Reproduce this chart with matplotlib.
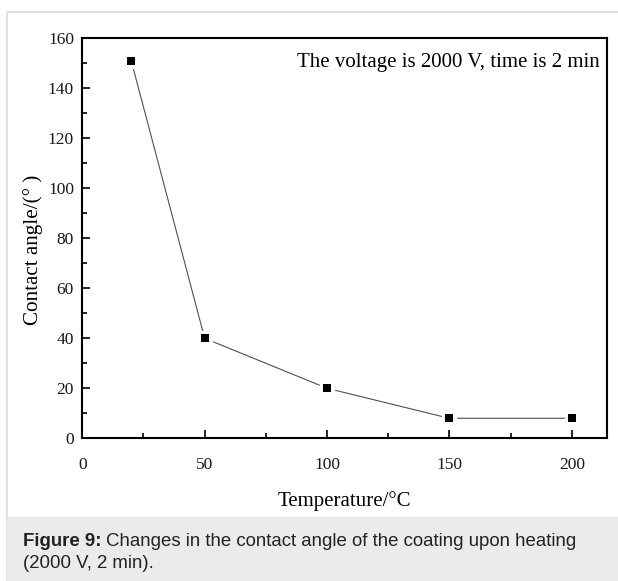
import matplotlib.pyplot as plt
from matplotlib.patches import Rectangle
from matplotlib.ticker import MultipleLocator

# data
temperature = [20, 50, 100, 150, 200]
contact_angle = [151, 40, 20, 8, 8]

x_ticks = [0, 50, 100, 150, 200]
y_ticks = [0, 20, 40, 60, 80, 100, 120, 140, 160]

W, H = 618, 581
fig = plt.figure(figsize=(W / 100, H / 100), dpi=100)

# page frame + caption box (behind the axes)
fig.patches.append(Rectangle((6.5 / W, 0), 1, 1 - 12 / H, transform=fig.transFigure,
                             facecolor='white', edgecolor='#dcdcdc', linewidth=1.2, zorder=-2))
fig.patches.append(Rectangle((6.5 / W, 0), 1, (H - 517) / H, transform=fig.transFigure,
                             facecolor='#ebebeb', edgecolor='none', zorder=-1))

ax = fig.add_axes([82.3 / W, 1 - 438.3 / H, 525 / W, 400 / H])
ax.set_facecolor('none')

serif = 'Liberation Serif'

# line with gaps around the symbols (Origin style)
ax.plot(temperature, contact_angle, color='#505050', linewidth=0.8, zorder=2)
ax.plot(temperature, contact_angle, linestyle='none', marker='s', markersize=10.5,
        markerfacecolor='white', markeredgecolor='white', zorder=3)
ax.plot(temperature, contact_angle, linestyle='none', marker='s', markersize=5.2,
        markerfacecolor='black', markeredgecolor='black', markeredgewidth=0, zorder=4)

ax.set_xlim(0, 214.5)
ax.set_ylim(0, 160)
ax.set_xticks(x_ticks)
ax.set_yticks(y_ticks)
ax.xaxis.set_minor_locator(MultipleLocator(25))
ax.yaxis.set_minor_locator(MultipleLocator(10))
ax.tick_params(which='both', direction='in', top=False, right=False, width=1.2)
ax.tick_params(which='major', length=6, labelsize=12.5, labelfontfamily=serif,
               labelcolor='#1a1a1a')
ax.tick_params(which='minor', length=3.5)
ax.tick_params(axis='x', which='major', pad=13.5)
ax.tick_params(axis='y', which='major', pad=6)
for s in ax.spines.values():
    s.set_linewidth(1.5)

ax.set_xlabel('Temperature/\u00b0C', fontfamily=serif, fontsize=15)
ax.set_ylabel('Contact angle/(\u00b0 )', fontfamily=serif, fontsize=15.2)
ax.xaxis.set_label_coords(0.5, -0.133)
ax.yaxis.set_label_coords(-0.075, 0.47)

ax.text(0.986, 0.94, 'The voltage is 2000 V, time is 2 min', transform=ax.transAxes,
        ha='right', va='center', fontfamily=serif, fontsize=15)

# caption
cap_size = 13.4
t1 = fig.text(22.7 / W, 1 - 541.7 / H, 'Figure 9: ', fontfamily='Liberation Sans',
              fontweight='bold', fontsize=cap_size, va='center', color='#222222')
renderer = fig.canvas.get_renderer()
bb = t1.get_window_extent(renderer)
fig.text(bb.x1 / W, 1 - 541.7 / H, 'Changes in the contact angle of the coating upon heating',
         fontfamily='Liberation Sans', fontsize=cap_size, va='center', color='#222222')
fig.text(22.7 / W, 1 - 563 / H, '(2000 V, 2 min).', fontfamily='Liberation Sans',
         fontsize=cap_size, va='center', color='#222222')

fig.savefig('out.png', dpi=100)
